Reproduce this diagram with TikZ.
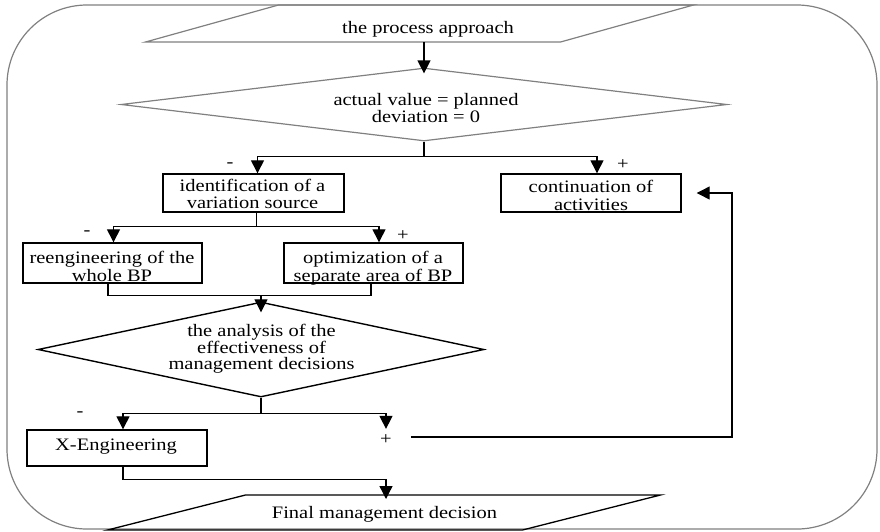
\documentclass[tikz,border=0pt]{standalone}
\usepackage{fontspec}
\setmainfont{Liberation Serif}[FakeStretch=1.17]
\usetikzlibrary{shapes.geometric,arrows.meta,calc}
\begin{document}
\begin{tikzpicture}[x=1pt,y=-1pt,
  txt/.style={anchor=base,inner sep=0pt,font=\fontsize{17.5}{18}\selectfont},
  sign/.style={inner sep=0pt,font=\fontsize{17.5}{18}\selectfont},
  blk/.style={draw=black,line width=1.4pt,rectangle,inner sep=0pt},
  ghost/.style={rectangle,inner sep=0pt,outer sep=0pt},
  conn/.style={draw=black,line width=1.3pt},
  arr/.style={conn,-{Triangle[length=13pt,width=13pt]}},
  grayline/.style={draw=gray,line width=1.2pt}
]
\useasboundingbox (0,0) rectangle (880,531);
% outer frame
\draw[grayline,rounded corners=80pt] (7,5) rectangle (877,529);

% top parallelogram
\node[ghost,minimum width=415pt,minimum height=37pt] (proc) at (419.5,23.5) {};
\draw[grayline] ([xshift=66.5pt]proc.north west) -- ([xshift=66.5pt]proc.north east)
  -- ([xshift=-66.5pt]proc.south east) -- ([xshift=-66.5pt]proc.south west) -- cycle;
\node[txt] (procT) at (428,33) {the process approach};

% first decision
\node[diamond,grayline,minimum width=606pt,minimum height=73pt,inner sep=0pt] (d1) at (424,104.5) {};
\node[txt] (d1a) at (426,105.5) {actual value = planned};
\node[txt] (d1b) at (426,122) {deviation = 0};
\draw[arr] (proc.south -| d1.north) -- ([yshift=-6pt]d1.north);

% boxes level 1
\node[blk,minimum width=181pt,minimum height=38pt] (ident) at (253.5,193) {};
\node[txt] (identA) at (252.5,191) {identification of a};
\node[txt] (identB) at (252.5,208) {variation source};
\node[blk,minimum width=180pt,minimum height=38pt] (cont) at (591,193) {};
\node[txt] (contA) at (591,192) {continuation of};
\node[txt] (contB) at (591,210) {activities};

\draw[conn] (d1.south) -- ++(0,15) coordinate (j1);
\draw[arr] (j1) -| ([xshift=4pt]ident.north);
\draw[arr] (j1) -| ([xshift=6pt]cont.north);
\node[sign] (m1) at (230,165) {-};
\node[sign] (p1) at (623,165) {+};

% boxes level 2
\node[blk,minimum width=179pt,minimum height=40pt] (reeng) at (112.5,263) {};
\node[txt] (reengA) at (112,263) {reengineering of the};
\node[txt] (reengB) at (112,281) {whole BP};
\node[blk,minimum width=179pt,minimum height=40pt] (optim) at (373.5,263) {};
\node[txt] (optimA) at (373,263) {optimization of a};
\node[txt] (optimB) at (373,281) {separate area of BP};

\draw[conn] ([xshift=3pt]ident.south) -- ++(0,14) coordinate (j2);
\draw[arr] (j2) -| ([xshift=1pt]reeng.north);
\draw[arr] (j2) -| ([xshift=5.5pt]optim.north);
\node[sign] (m2) at (87,233) {-};
\node[sign] (p2) at (403,236) {+};

% second decision
\node[diamond,draw=black,line width=1.4pt,minimum width=446pt,minimum height=95pt,inner sep=0pt] (d2) at (261,349.5) {};
\node[txt] (d2a) at (261.5,336.5) {the analysis of the};
\node[txt] (d2b) at (261.5,353) {effectiveness of};
\node[txt] (d2c) at (261.5,369.5) {management decisions};

\draw[conn] ([xshift=-4.5pt]reeng.south) -- ++(0,12) coordinate (j3) -| ([xshift=-2.5pt]optim.south);
\draw[arr] (j3 -| d2.north) -- ([yshift=-11pt]d2.north);

% level 3
\node[blk,minimum width=180pt,minimum height=36pt] (xeng) at (117,448) {};
\node[txt] (xengT) at (116,450) {X-Engineering};
\node[sign] (plus) at (386,440) {+};
\node[sign] (m3) at (80,414) {-};

\draw[conn] (d2.south) -- ++(0,16) coordinate (j4);
\draw[arr] (j4) -| ([xshift=6pt]xeng.north);
\draw[arr] (j4) -| ([yshift=6pt]plus.north);

% feedback
\coordinate (fbr) at (732,437);
\draw[arr] ([xshift=19pt,yshift=3pt]plus.east) -- (fbr) |- ([xshift=15pt]cont.east);

% final parallelogram
\node[ghost,minimum width=415pt,minimum height=35pt] (fin) at (384,512.5) {};
\draw[draw=black,line width=1.3pt] ([xshift=69pt]fin.north west) -- ([xshift=69pt]fin.north east)
  -- ([xshift=-69pt]fin.south east) -- ([xshift=-69pt]fin.south west) -- cycle;
\node[txt] (finT) at (384.5,518) {Final management decision};

\draw[conn] ([xshift=6pt]xeng.south) -- ++(0,13) coordinate (j5);
\draw[arr] (j5) -| ($(fin.north -| plus)+(0,4)$);
\end{tikzpicture}
\end{document}
